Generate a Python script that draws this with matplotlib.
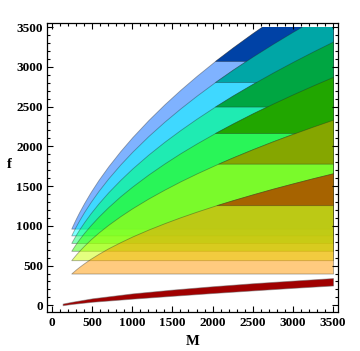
import numpy as np
import matplotlib.pyplot as plt
from matplotlib.colors import hsv_to_rgb
from matplotlib.patches import Rectangle

# --- data ---
M = [240, 255, 275, 300, 340, 400, 480, 580, 700, 850, 1000, 1200, 1400,
     1600, 1800, 2030, 2250, 2500, 2750, 3000, 3250, 3500]

f_c0 = [400, 414, 431, 453, 485, 530, 585, 648, 717, 794, 866, 953, 1033,
        1108, 1178, 1254, 1322, 1396, 1467, 1534, 1599, 1661]
f_c1 = [568, 587, 612, 642, 687, 750, 828, 916, 1012, 1121, 1221, 1343, 1455,
        1560, 1658, 1764, 1860, 1964, 2063, 2157, 2248, 2335]
f_c2 = [686, 710, 741, 778, 834, 912, 1007, 1116, 1235, 1371, 1494, 1645, 1784,
        1914, 2035, 2167, 2286, 2415, 2537, 2654, 2766, 2874]
f_c3 = [785, 813, 848, 891, 956, 1046, 1157, 1283, 1421, 1577, 1721, 1896, 2057,
        2206, 2347, 2500, 2638, 2786, 2928, 3063, 3193, 3318]
f_c4 = [880, 911, 951, 999, 1072, 1174, 1298, 1440, 1595, 1771, 1932, 2129, 2310,
        2478, 2636, 2808, 2963, 3130, 3289, 3441, 3587, 3727]
f_c5 = [965, 999, 1043, 1095, 1175, 1286, 1423, 1578, 1747, 1939, 2115, 2330, 2528,
        2712, 2885, 3073, 3242, 3425, 3599, 3766, 3925, 4079]
curves = [f_c0, f_c1, f_c2, f_c3, f_c4, f_c5]

f_floor = [400, 568, 686, 785, 880, 965]       # lower horizontal edge of each region
f_split = [1260, 1782, 2167, 2500, 2808, 3073]  # where the dark part starts
hues = [0.1, 0.2, 0.3, 0.4, 0.5, 0.6]

M_red = [133, 250, 500, 1000, 1500, 2000, 2500, 3000, 3500]
f_red_lo = [2, 18, 45, 84, 120, 155, 188, 220, 250]
f_red_hi = [22, 45, 88, 150, 198, 240, 278, 311, 343]

F_MAX = 3500

fig = plt.figure(figsize=(3.6, 3.51), dpi=100)
ax = fig.add_axes([47 / 360, 1 - 311.7 / 351, 291 / 360, 289 / 351])

# plot range of the regions (f is cut at 3500)
clip = Rectangle((0, 0), 3600, F_MAX, transform=ax.transData,
                 facecolor='none', edgecolor='none')
ax.add_patch(clip)

edge = (0.15, 0.15, 0.15, 0.4)

# translucent regions, outermost first
for i in reversed(range(6)):
    c = hsv_to_rgb((hues[i], 1, 1))
    pc = ax.fill_between(M, f_floor[i], curves[i], facecolor=(*c, 0.5),
                         edgecolor=edge, lw=0.6)
    pc.set_clip_path(clip)

# darker upper parts
for i in reversed(range(6)):
    top = np.array(curves[i])
    c = hsv_to_rgb((hues[i], 1, 0.65))
    pc = ax.fill_between(M, f_split[i], top, where=top >= f_split[i],
                         interpolate=True, facecolor=c, edgecolor=edge, lw=0.6)
    pc.set_clip_path(clip)

# red band
ax.fill_between(M_red, f_red_lo, f_red_hi, facecolor='#A00000',
                edgecolor=(0.4, 0.4, 0.4, 0.5), lw=0.7)

ax.set_xlim(-62, 3562)
ax.set_ylim(-80, 3555)
ax.set_xticks(range(0, 3501, 500))
ax.set_yticks(range(0, 3501, 500))
ax.set_xticks(range(0, 3501, 100), minor=True)
ax.set_yticks(range(0, 3501, 100), minor=True)
ax.tick_params(which='both', direction='in', top=True, right=True, width=0.8)
ax.tick_params(which='major', length=4)
ax.tick_params(which='minor', length=2)
ax.tick_params(axis='x', pad=4)
ax.tick_params(axis='y', pad=3)
for lab in ax.get_xticklabels() + ax.get_yticklabels():
    lab.set_family('Liberation Serif')
    lab.set_weight('bold')
    lab.set_size(9.5)
for s in ax.spines.values():
    s.set_linewidth(0.9)

fig.text(192.5 / 360, 1 - 341.7 / 351, 'M', ha='center', va='center',
         family='Liberation Serif', weight='bold', size=10.5)
fig.text(9 / 360, 1 - 164 / 351, 'f', ha='center', va='center',
         family='Liberation Serif', weight='bold', size=10.5)

fig.savefig('out.png', dpi=100)
